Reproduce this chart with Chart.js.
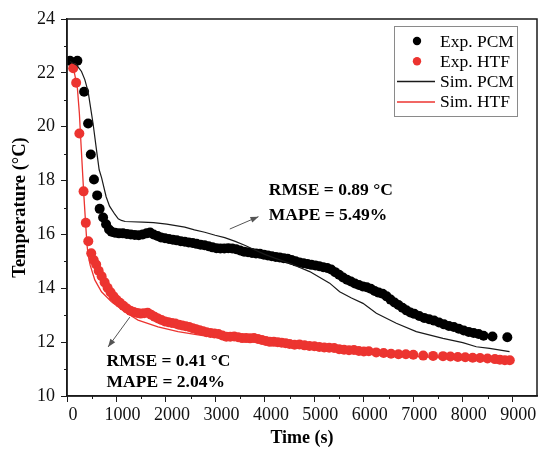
<!DOCTYPE html>
<html>
<head>
<meta charset="utf-8">
<script src="https://cdn.jsdelivr.net/npm/chart.js@4.4.1/dist/chart.umd.min.js"></script>
<style>
  html, body { margin: 0; padding: 0; background: #fff; }
  #wrap { width: 544px; height: 456px; }
</style>
</head>
<body>
<div id="wrap"><canvas id="chart"></canvas></div>
<script>
/* Temperature vs time — experiment vs simulation (PCM / HTF) */

// [time (s), temperature (°C)]
const expPCM = [
  [60,22.45],[210,22.45],[346,21.30],[427,20.12],[481,18.97],[545,18.04],[610,17.45],[660,16.95],
  [730,16.63],[790,16.38],[850,16.18],[900,16.10],[970,16.06],[1050,16.04],[1130,16.04],[1210,16.02],
  [1290,16.00],[1370,15.98],[1450,15.97],[1530,16.00],[1610,16.04],[1680,16.07],[1750,16.00],[1830,15.94],
  [1900,15.89],[1980,15.86],[2060,15.83],[2140,15.80],[2220,15.78],[2300,15.75],[2380,15.73],[2460,15.70],
  [2540,15.68],[2620,15.65],[2700,15.62],[2780,15.60],[2860,15.56],[2940,15.52],[3020,15.49],[3100,15.48],
  [3180,15.48],[3260,15.49],[3340,15.48],[3420,15.45],[3500,15.40],[3580,15.36],[3660,15.34],[3740,15.31],
  [3820,15.29],[3900,15.28],[3980,15.25],[4060,15.22],[4140,15.19],[4220,15.16],[4300,15.14],[4380,15.12],
  [4460,15.10],[4540,15.05],[4620,15.00],[4700,14.96],[4780,14.93],[4860,14.90],[4940,14.87],[5020,14.85],
  [5100,14.82],[5180,14.78],[5260,14.75],[5340,14.70],[5420,14.60],[5500,14.50],[5580,14.40],[5660,14.32],
  [5740,14.25],[5820,14.18],[5900,14.12],[5980,14.07],[6060,14.04],[6140,13.98],[6220,13.90],[6300,13.84],
  [6380,13.80],[6460,13.70],[6540,13.58],[6620,13.47],[6700,13.38],[6780,13.28],[6860,13.18],[6940,13.10],
  [7020,13.05],[7120,12.97],[7220,12.90],[7320,12.85],[7420,12.80],[7520,12.73],[7620,12.66],[7720,12.60],
  [7820,12.56],[7920,12.50],[8020,12.43],[8120,12.38],[8220,12.34],[8320,12.30],[8420,12.24],[8600,12.21],
  [8900,12.18]
];

const expHTF = [
  [125,22.17],[185,21.63],[250,19.75],[335,17.60],[380,16.43],[430,15.75],[490,15.30],[540,15.05],
  [590,14.88],[640,14.65],[700,14.45],[760,14.22],[820,14.02],[880,13.85],[940,13.70],[1000,13.57],
  [1070,13.46],[1140,13.35],[1210,13.25],[1280,13.17],[1350,13.12],[1420,13.08],[1490,13.06],[1560,13.07],
  [1630,13.09],[1700,13.02],[1770,12.94],[1840,12.88],[1910,12.82],[1980,12.77],[2050,12.74],[2120,12.71],
  [2190,12.69],[2260,12.65],[2330,12.62],[2400,12.59],[2470,12.56],[2540,12.52],[2610,12.48],[2680,12.44],
  [2750,12.40],[2820,12.37],[2900,12.34],[2980,12.32],[3060,12.30],[3140,12.25],[3220,12.20],[3300,12.20],
  [3380,12.21],[3460,12.18],[3540,12.15],[3620,12.15],[3700,12.14],[3780,12.15],[3860,12.12],[3940,12.08],
  [4020,12.04],[4100,12.01],[4180,12.01],[4260,12.00],[4340,11.98],[4420,11.96],[4500,11.93],[4600,11.90],
  [4700,11.91],[4800,11.88],[4900,11.86],[5000,11.85],[5100,11.82],[5200,11.80],[5300,11.79],[5400,11.78],
  [5500,11.74],[5600,11.72],[5700,11.70],[5800,11.71],[5900,11.67],[6000,11.65],[6100,11.66],[6250,11.62],
  [6400,11.60],[6550,11.57],[6700,11.55],[6850,11.55],[7000,11.53],[7200,11.50],[7400,11.49],[7600,11.48],
  [7750,11.47],[7900,11.45],[8050,11.44],[8200,11.42],[8350,11.41],[8500,11.39],[8650,11.37],[8750,11.35],
  [8850,11.33],[8950,11.33]
];

const simPCM = [
  [60,22.42],[200,22.28],[293,22.05],[360,21.75],[427,21.30],[490,20.55],[528,20.10],[596,19.14],
  [650,18.40],[700,18.10],[791,17.40],[860,17.05],[966,16.75],[1036,16.58],[1100,16.52],[1176,16.48],
  [1300,16.47],[1526,16.46],[1750,16.44],[2016,16.38],[2380,16.27],[2576,16.17],[2784,16.08],[2995,15.97],
  [3188,15.88],[3400,15.74],[3592,15.60],[3800,15.42],[3996,15.26],[4200,15.12],[4501,14.93],[4905,14.62],
  [5309,14.19],[5511,13.87],[5750,13.64],[5983,13.44],[6253,13.07],[6656,12.70],[7060,12.39],[7599,12.14],
  [8000,11.98],[8273,11.83],[8541,11.77],[8945,11.65]
];

const simHTF = [
  [90,22.25],[150,22.00],[210,21.43],[250,20.50],[280,19.46],[336,17.60],[380,16.30],[405,15.60],
  [430,15.20],[470,14.85],[562,14.31],[697,13.87],[899,13.50],[1168,13.13],[1436,12.82],[1840,12.57],
  [2244,12.39],[2648,12.27],[3000,12.20],[3500,12.10],[4000,11.98],[4500,11.88],[5000,11.79],[5500,11.70],
  [6000,11.60],[6500,11.53],[7000,11.47],[7500,11.43],[8000,11.39],[8500,11.35],[8900,11.30]
];

const seriesNames = ['Exp. PCM', 'Exp. HTF', 'Sim. PCM', 'Sim. HTF'];
const xTicks = [0, 1000, 2000, 3000, 4000, 5000, 6000, 7000, 8000, 9000];
const yTicks = [10, 12, 14, 16, 18, 20, 22, 24];

// annotation texts + arrows, anchored in data units (time, temp)
const notes = [
  { text: 'RMSE = 0.89 °C', at: [4080, 17.65] },
  { text: 'MAPE = 5.49%',   at: [4080, 16.72] },
  { text: 'RMSE = 0.41 °C', at: [800, 11.27] },
  { text: 'MAPE = 2.04%',   at: [800, 10.49] }
];
const arrows = [
  { from: [3290, 16.20], to: [3870, 16.66] },
  { from: [1270, 12.93], to: [830, 11.82] }
];

const RED = '#ec3430';
const INK = '#1a1a1a';
const SERIF = "'Liberation Serif', 'Times New Roman', serif";

const toXY = arr => arr.map(p => ({ x: p[0], y: p[1] }));

const decor = {
  id: 'decor',
  afterDraw(chart) {
    const { ctx, chartArea: a, scales: { x, y } } = chart;
    ctx.save();

    // frame
    ctx.strokeStyle = INK;
    ctx.lineWidth = 1.5;
    ctx.strokeRect(a.left, a.top, a.right - a.left, a.bottom - a.top);

    // minor ticks
    ctx.lineWidth = 1;
    ctx.beginPath();
    for (let v = 11; v < 24; v += 2) {
      const py = Math.round(y.getPixelForValue(v)) + 0.5;
      ctx.moveTo(a.left - 3, py); ctx.lineTo(a.left, py);
    }
    for (let v = 500; v < 9500; v += 1000) {
      const px = Math.round(x.getPixelForValue(v)) + 0.5;
      ctx.moveTo(px, a.bottom); ctx.lineTo(px, a.bottom + 3);
    }
    ctx.stroke();

    // arrows
    ctx.strokeStyle = '#555';
    ctx.fillStyle = '#555';
    ctx.lineWidth = 1;
    arrows.forEach(ar => {
      const x0 = x.getPixelForValue(ar.from[0]), y0 = y.getPixelForValue(ar.from[1]);
      const x1 = x.getPixelForValue(ar.to[0]),   y1 = y.getPixelForValue(ar.to[1]);
      const ang = Math.atan2(y1 - y0, x1 - x0);
      ctx.beginPath(); ctx.moveTo(x0, y0); ctx.lineTo(x1, y1); ctx.stroke();
      ctx.beginPath();
      ctx.moveTo(x1, y1);
      ctx.lineTo(x1 - 8 * Math.cos(ang) + 3 * Math.sin(ang), y1 - 8 * Math.sin(ang) - 3 * Math.cos(ang));
      ctx.lineTo(x1 - 8 * Math.cos(ang) - 3 * Math.sin(ang), y1 - 8 * Math.sin(ang) + 3 * Math.cos(ang));
      ctx.closePath(); ctx.fill();
    });

    // annotation text
    ctx.fillStyle = '#000';
    ctx.font = 'bold 17.5px ' + SERIF;
    ctx.textBaseline = 'middle';
    ctx.textAlign = 'left';
    notes.forEach(n => ctx.fillText(n.text, x.getPixelForValue(n.at[0]), y.getPixelForValue(n.at[1])));

    // legend box (drawn by hand, Origin style)
    const bw = 123, bh = 90;
    const bx = a.right - 20 - bw, by = a.top + 7;
    ctx.strokeStyle = '#8a8a8a';
    ctx.lineWidth = 1;
    ctx.strokeRect(bx + 0.5, by + 0.5, bw, bh);
    ctx.font = '17.5px ' + SERIF;
    chart.data.datasets.forEach((ds, i) => {
      const cy = by + 15 + i * 20.3;
      if (ds.showLine) {
        ctx.strokeStyle = ds.borderColor;
        ctx.lineWidth = 1.5;
        ctx.beginPath(); ctx.moveTo(bx + 3, cy); ctx.lineTo(bx + 41, cy); ctx.stroke();
      } else {
        ctx.fillStyle = ds.pointBackgroundColor;
        ctx.beginPath(); ctx.arc(bx + 23, cy, 4.2, 0, Math.PI * 2); ctx.fill();
      }
      ctx.fillStyle = '#000';
      ctx.fillText(ds.label, bx + 46, cy + 1);
    });

    ctx.restore();
  }
};

new Chart(document.getElementById('chart'), {
  type: 'scatter',
  data: {
    datasets: [
      { label: seriesNames[0], data: toXY(expPCM), showLine: false, pointRadius: 5,
        pointBackgroundColor: '#000', pointBorderWidth: 0, borderColor: '#000', order: 4 },
      { label: seriesNames[1], data: toXY(expHTF), showLine: false, pointRadius: 5,
        pointBackgroundColor: RED, pointBorderWidth: 0, borderColor: RED, order: 3 },
      { label: seriesNames[2], data: toXY(simPCM), showLine: true, pointRadius: 0,
        borderColor: INK, borderWidth: 1.2, tension: 0, order: 2 },
      { label: seriesNames[3], data: toXY(simHTF), showLine: true, pointRadius: 0,
        borderColor: RED, borderWidth: 1.3, tension: 0, order: 1 }
    ]
  },
  options: {
    responsive: true,
    maintainAspectRatio: false,
    animation: false,
    layout: { padding: { top: 19, right: 7, bottom: 0, left: 0 } },
    plugins: { legend: { display: false }, tooltip: { enabled: false } },
    scales: {
      x: {
        type: 'linear',
        min: 0, max: 9500,
        afterFit: s => { s.height = 60; },
        afterBuildTicks: s => { s.ticks = xTicks.map(v => ({ value: v })); },
        ticks: {
          autoSkip: false, labelOffset: 6, padding: 2, maxRotation: 0,
          callback: v => String(v),
          color: '#111', font: { family: SERIF, size: 18 }
        },
        grid: { drawOnChartArea: false, tickLength: 6, tickColor: INK, tickWidth: 1 },
        border: { color: INK, width: 1.5 },
        title: { display: true, text: 'Time (s)', color: '#000',
                 font: { family: SERIF, size: 18, weight: 'bold' }, padding: { top: 0, bottom: 7 } }
      },
      y: {
        min: 10, max: 24,
        afterFit: s => { s.width = 67; },
        afterBuildTicks: s => { s.ticks = yTicks.map(v => ({ value: v })); },
        ticks: {
          autoSkip: false, padding: 6,
          callback: v => String(v),
          color: '#111', font: { family: SERIF, size: 18 }
        },
        grid: { drawOnChartArea: false, tickLength: 6, tickColor: INK, tickWidth: 1 },
        border: { color: INK, width: 1.5 },
        title: { display: true, text: 'Temperature (°C)', color: '#000',
                 font: { family: SERIF, size: 18.5, weight: 'bold' }, padding: { top: 9, bottom: 0 } }
      }
    }
  },
  plugins: [decor]
});
</script>
</body>
</html>
